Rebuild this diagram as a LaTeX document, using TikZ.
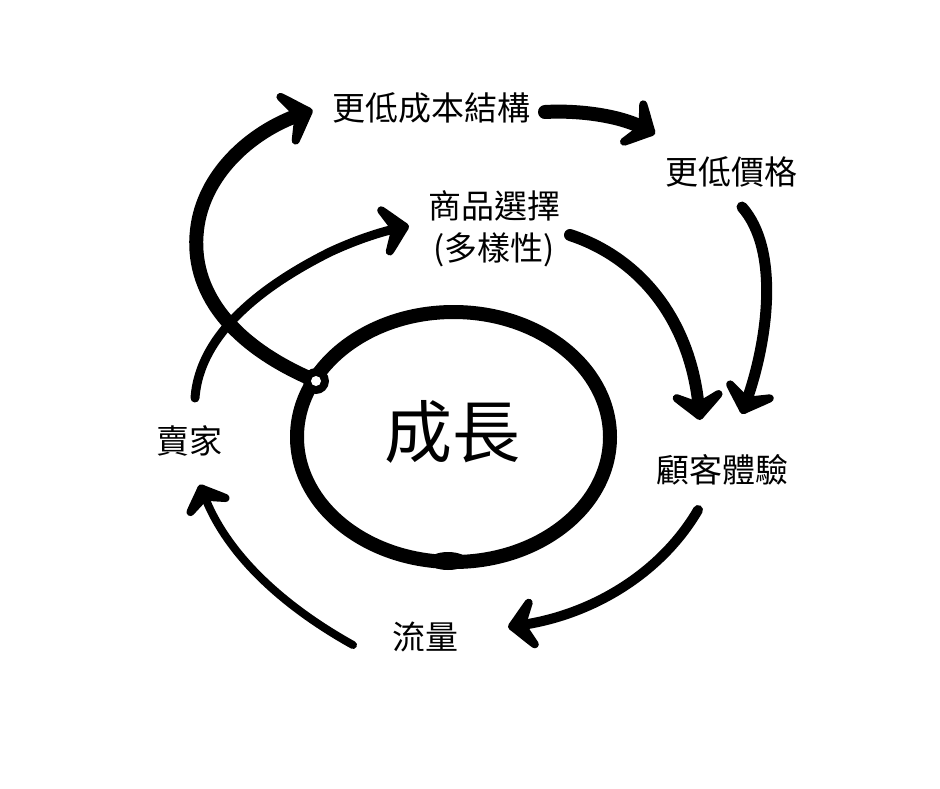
\documentclass[tikz,border=0pt]{standalone}
\usepackage{fontspec}
\newfontfamily\cjk{Noto Sans CJK TC}
\usetikzlibrary{calc}
\tikzset{
  ahead/.pic={
    \filldraw[line width=8pt, line join=round]
      (-4,0) .. controls (-10,6) and (-17,14) .. (-24,21)
      -- (-14,0) -- (-24,-21) .. controls (-17,-14) and (-10,-6) .. (-4,0) -- cycle;
  }
}
\newcommand\myhead[3][1]{%
  \path let \p1=($(#3)-(#2)$), \n1={atan2(\y1,\x1)} in
    pic[rotate=\n1, scale=#1] at (#3) {ahead};}
\begin{document}
\begin{tikzpicture}[x=1pt,y=-1pt,
  lbl/.style={font=\cjk\fontsize{33}{42}\selectfont, inner sep=0pt, align=center},
  brush/.style={line width=#1, line cap=round, black, shorten >=14pt},
  brush/.default=12pt]
\useasboundingbox[fill=white] (0,0) rectangle (940,788);

% labels
\node[lbl] (cost)  at (431,108) {更低成本結構};
\node[lbl] (price) at (731,172) {更低價格};
\node[lbl] (sel)   at (494,229) {商品選擇\\(多樣性)};
\node[lbl] (cx)    at (722,470) {顧客體驗};
\node[lbl] (seller) at (189,441) {賣家};
\node[lbl] (traffic) at (425,637) {流量};
\node[font=\cjk\fontsize{68}{80}\selectfont, inner sep=0pt] (growth) at (452,432) {成長};

% flywheel
\draw[line width=14pt] (453.5,437) ellipse [x radius=156.5, y radius=125];
\fill (448,561) ellipse [x radius=20, y radius=9];
\coordinate (knobc) at (316,381);

% coordinates for free ends
\coordinate (a1) at (313,110);
\coordinate (s2) at (545,112);
\coordinate (a2) at (655,134);
\coordinate (s3) at (742,207);
\coordinate (a3) at (742,414);
\coordinate (s4) at (570,235);
\coordinate (a4) at (700,420);
\coordinate (s5) at (698,510);
\coordinate (a5) at (508,627);
\coordinate (s6) at (353,645);
\coordinate (a6) at (200,485);
\coordinate (s7) at (195,398);
\coordinate (a7) at (409,226);

% arrows
\draw[brush=14pt] (knobc) .. controls (230,345) and (190,290) .. (197,230)
   .. controls (203,175) and (250,132) .. (a1);
\myhead[1.1]{250,132}{a1}
\draw[brush=14pt] (s2) .. controls (580,110) and (620,116) .. (a2);
\myhead{620,116}{a2}
\draw[brush=11pt] (s3) .. controls (780,250) and (768,340) .. (a3);
\myhead{768,340}{a3}
\draw[brush=12pt] (s4) .. controls (640,258) and (690,320) .. (a4);
\myhead{690,320}{a4}
\draw[brush=10pt] (s5) .. controls (660,575) and (590,615) .. (a5);
\myhead{590,615}{a5}
\draw[brush=8pt] (s6) .. controls (290,610) and (230,560) .. (a6);
\myhead[0.9]{230,560}{a6}
\draw[brush=9pt] (s7) .. controls (200,330) and (270,282) .. (330,252)
   .. controls (360,238) and (385,231) .. (a7);
\myhead{385,231}{a7}

% knob
\node[circle, fill=black, minimum size=26pt, inner sep=0pt] (knob) at (knobc) {};
\fill[white] (knob.center) circle (5);
\end{tikzpicture}
\end{document}
